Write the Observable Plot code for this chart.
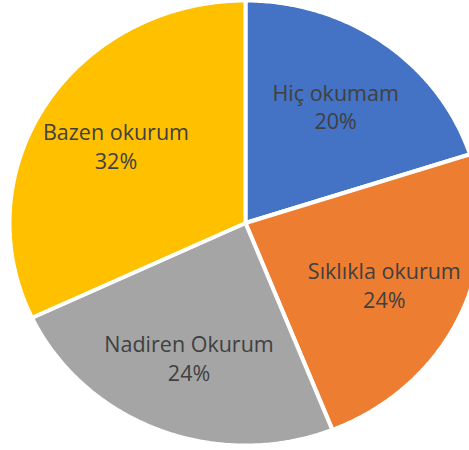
<!DOCTYPE html>
<html>
<head>
<meta charset="utf-8">
<script src="https://cdn.jsdelivr.net/npm/d3@7"></script>
<script src="https://cdn.jsdelivr.net/npm/@observablehq/plot@0.6"></script>
<style>
  html, body { margin: 0; padding: 0; background: #fff; overflow: hidden; }
  #chart svg { display: block; }
</style>
</head>
<body>
<div id="chart"></div>
<script>
const categories = ["Hiç okumam", "Sıklıkla okurum", "Nadiren Okurum", "Bazen okurum"];
const values = [20, 24, 24, 32];
const colors = ["#4472C4", "#ED7D31", "#A5A5A5", "#FFC000"];

const total = d3.sum(values);
const arcs = d3.pie().sort(null).value(d => d)(values);

const outline = [];
arcs.forEach((a, i) => {
  const n = Math.max(2, Math.ceil((a.endAngle - a.startAngle) / 0.01));
  outline.push({name: categories[i], color: colors[i], x: 0, y: 0});
  for (let k = 0; k <= n; k++) {
    const t = a.startAngle + (a.endAngle - a.startAngle) * k / n;
    outline.push({name: categories[i], color: colors[i], x: Math.sin(t), y: Math.cos(t)});
  }
  outline.push({name: categories[i], color: colors[i], x: 0, y: 0});
});

const labelRadius = 0.65;
const labels = arcs.map((a, i) => {
  const m = (a.startAngle + a.endAngle) / 2;
  return {
    x: labelRadius * Math.sin(m),
    y: labelRadius * Math.cos(m),
    text: categories[i] + "\n" + Math.round(values[i] / total * 100) + "%"
  };
});

const chart = Plot.plot({
  width: 469,
  height: 450,
  margin: 0,
  style: {background: "#fff", overflow: "hidden"},
  x: {domain: [-1, 1], range: [9, 481], axis: null},
  y: {domain: [-1, 1], range: [445, 0], axis: null},
  marks: [
    Plot.line(outline, {
      x: "x", y: "y", z: "name",
      fill: "color",
      stroke: "#fff",
      strokeWidth: 4,
      strokeLinejoin: "miter",
      curve: "linear"
    }),
    Plot.text(labels, {
      x: "x", y: "y", text: "text",
      fontSize: 21.5,
      lineHeight: 1.33,
      fill: "#404040",
      fontFamily: "Open Sans",
      textAnchor: "middle"
    })
  ]
});
document.getElementById("chart").appendChild(chart);
</script>
</body>
</html>
